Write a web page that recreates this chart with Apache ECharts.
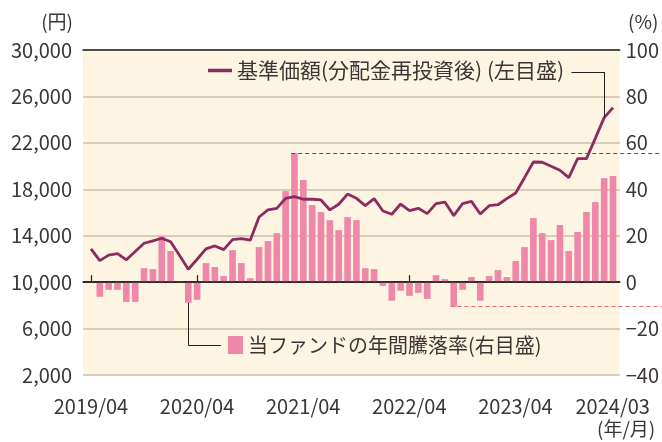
<!DOCTYPE html>
<html>
<head>
<meta charset="utf-8">
<script src="https://cdn.jsdelivr.net/npm/echarts@6/dist/echarts.min.js"></script>
<style>
  html, body { margin: 0; padding: 0; background: #fff; }
  #chart { width: 662px; height: 442px; }
</style>
</head>
<body>
<div id="chart"></div>
<script>
// months 2019/04 - 2024/03
const months = [
  "2019/04", "2019/05", "2019/06", "2019/07", "2019/08", "2019/09", "2019/10", "2019/11", "2019/12", "2020/01", "2020/02", "2020/03",
  "2020/04", "2020/05", "2020/06", "2020/07", "2020/08", "2020/09", "2020/10", "2020/11", "2020/12", "2021/01", "2021/02", "2021/03",
  "2021/04", "2021/05", "2021/06", "2021/07", "2021/08", "2021/09", "2021/10", "2021/11", "2021/12", "2022/01", "2022/02", "2022/03",
  "2022/04", "2022/05", "2022/06", "2022/07", "2022/08", "2022/09", "2022/10", "2022/11", "2022/12", "2023/01", "2023/02", "2023/03",
  "2023/04", "2023/05", "2023/06", "2023/07", "2023/08", "2023/09", "2023/10", "2023/11", "2023/12", "2024/01", "2024/02", "2024/03",
];
// 基準価額 (円)
const navValues = [
  12860, 11850, 12330, 12450, 11920, 12640, 13350, 13560, 13780, 13480, 12320, 11110,
  11970, 12860, 13120, 12800, 13660, 13740, 13610, 15610, 16220, 16360, 17220, 17360,
  17140, 17140, 17080, 16220, 16710, 17590, 17220, 16590, 17190, 16130, 15850, 16730,
  16160, 16360, 15900, 16760, 16900, 15730, 16760, 16960, 15870, 16590, 16670, 17190,
  17680, 19000, 20350, 20330, 19980, 19640, 19000, 20640, 20640, 22390, 24170, 25030,
];
// 年間騰落率 (%)
const returnValues = [
  null, -6.3, -3.3, -3.3, -8.5, -8.5, 6.0, 5.6, 19.8, 13.4, 0.4, -8.9,
  -7.6, 8.2, 6.5, 2.6, 13.8, 8.2, 1.7, 15.1, 17.7, 21.1, 39.2, 55.5,
  44.0, 33.2, 30.2, 26.7, 22.4, 28.0, 26.7, 6.0, 5.6, -1.6, -8.0, -3.7,
  -5.9, -4.6, -7.2, 3.0, 1.3, -10.6, -3.3, 2.2, -8.0, 2.6, 5.2, 2.2,
  9.1, 15.1, 27.6, 21.1, 18.1, 24.6, 13.4, 21.6, 30.2, 34.5, 44.8, 45.7,
];
const tickIndex = [0, 12, 24, 36, 48, 59];
const tickLabels = ["2019/04", "2020/04", "2021/04", "2022/04", "2023/04", "2024/03"];

const navName = "基準価額(分配金再投資後) (左目盛)";
const retName = "当ファンドの年間騰落率(右目盛)";

const font = "'Noto Sans CJK JP', 'Noto Sans', sans-serif";
const textColor = "#3b3535";

// plot area: x from -0.9 to 59.79 over 537px; data grid runs to the page edge
const xMin = -0.9;
const xMax = 59.79;
const xMaxWide = xMin + (xMax - xMin) * 579 / 537;

const navData = navValues.map((v, i) => [i, v]);
const retData = returnValues.map((v, i) => [i, v]);

const valid = returnValues.filter((v) => v != null);
const maxRet = Math.max(...valid);
const minRet = Math.min(...valid);
const maxIdx = returnValues.indexOf(maxRet);
const minIdx = returnValues.indexOf(minRet);

const chart = echarts.init(document.getElementById("chart"));
chart.setOption({
  animation: false,
  textStyle: { fontFamily: font, color: textColor },
  title: [
    { text: "(円)", right: 589, top: 12, padding: 0, textStyle: { fontSize: 19, fontWeight: "normal", color: textColor, fontFamily: font } },
    { text: "(%)", left: 628, top: 12, padding: 0, textStyle: { fontSize: 19, fontWeight: "normal", color: textColor, fontFamily: font } },
    { text: "(年/月)", left: 597, top: 419, padding: 0, textStyle: { fontSize: 19, fontWeight: "normal", color: textColor, fontFamily: font } },
  ],
  legend: [
    {
      data: [navName],
      left: 208,
      top: 60,
      padding: 0,
      icon: "rect",
      itemWidth: 24,
      itemHeight: 3.5,
      textStyle: { fontSize: 21, color: textColor, fontFamily: font },
      selectedMode: false,
    },
    {
      data: [retName],
      left: 228,
      top: 335,
      padding: 0,
      icon: "rect",
      itemWidth: 15,
      itemHeight: 18,
      textStyle: { fontSize: 20, color: textColor, fontFamily: font },
      selectedMode: false,
    },
  ],
  grid: [
    { left: 83, right: 42, top: 50, bottom: 67, show: true, backgroundColor: "#fdf5e2", borderWidth: 0 },
    { left: 83, right: 0, top: 50, bottom: 67 },
  ],
  xAxis: [
    {
      type: "value",
      gridIndex: 0,
      min: xMin,
      max: xMax,
      splitLine: { show: false },
      axisLine: { show: true, lineStyle: { color: "#231f1f", width: 1.5 } },
      axisTick: { show: true, inside: true, length: 7, customValues: tickIndex, lineStyle: { color: "#231f1f", width: 1.2 } },
      axisLabel: {
        customValues: tickIndex,
        margin: 21,
        fontSize: 20,
        color: textColor,
        formatter: (v) => tickLabels[tickIndex.indexOf(Math.round(v))],
      },
    },
    {
      type: "value",
      gridIndex: 0,
      position: "top",
      min: xMin,
      max: xMax,
      splitLine: { show: false },
      axisLine: { show: true, lineStyle: { color: "#231f1f", width: 1.5 } },
      axisTick: { show: false },
      axisLabel: { show: false },
    },
    {
      type: "value",
      gridIndex: 1,
      min: xMin,
      max: xMaxWide,
      show: false,
    },
  ],
  yAxis: [
    {
      type: "value",
      gridIndex: 0,
      position: "left",
      min: 2000,
      max: 30000,
      interval: 4000,
      axisLine: { show: false },
      axisTick: { show: false },
      splitLine: { show: true, lineStyle: { color: "#c9c0ae", width: 1.5 } },
      axisLabel: {
        margin: 11,
        fontSize: 20,
        color: textColor,
        formatter: (v) => v.toLocaleString("en-US"),
      },
    },
    {
      type: "value",
      gridIndex: 0,
      position: "right",
      min: -40,
      max: 100,
      interval: 20,
      axisLine: { show: false },
      axisTick: { show: false },
      splitLine: { show: false },
      axisLabel: {
        margin: 6,
        fontSize: 20,
        color: textColor,
        formatter: (v) => (v < 0 ? "\u2212" + Math.abs(v) : String(v)),
      },
    },
    { type: "value", gridIndex: 1, min: 2000, max: 30000, show: false },
    { type: "value", gridIndex: 1, min: -40, max: 100, show: false },
  ],
  series: [
    {
      name: retName,
      type: "bar",
      xAxisIndex: 2,
      yAxisIndex: 3,
      data: retData,
      barWidth: 6.6,
      itemStyle: { color: "#ee87a8" },
      z: 2,
      markLine: {
        silent: true,
        symbol: ["none", "none"],
        label: { show: false },
        data: [
          [
            { coord: [xMin, 0], lineStyle: { color: "#231f1f", width: 1.5, type: "solid" } },
            { coord: [xMax, 0] },
          ],
          [
            { coord: [maxIdx - 0.37, maxRet], lineStyle: { color: "#c8202e", width: 1, type: [4, 3] } },
            { coord: [xMaxWide - 0.05, maxRet] },
          ],
          [
            { coord: [minIdx - 0.37, minRet], lineStyle: { color: "#ef6b74", width: 1.2, type: [4, 3] } },
            { coord: [xMaxWide - 0.05, minRet] },
          ],
          [
            { coord: [11, returnValues[11]], lineStyle: { color: "#231f1f", width: 1, type: "solid" } },
            { coord: [11, -27.2] },
          ],
          [
            { coord: [11, -27.2], lineStyle: { color: "#231f1f", width: 1, type: "solid" } },
            { coord: [14.7, -27.2] },
          ],
        ],
      },
    },
    {
      name: navName,
      type: "line",
      xAxisIndex: 2,
      yAxisIndex: 2,
      data: navData,
      showSymbol: false,
      lineStyle: { color: "#8c2b60", width: 2.8 },
      itemStyle: { color: "#8c2b60" },
      z: 3,
      markLine: {
        silent: true,
        symbol: ["none", "none"],
        label: { show: false },
        lineStyle: { color: "#231f1f", width: 1, type: "solid" },
        data: [
          [{ coord: [54.3, 28100] }, { coord: [58, 28100] }],
          [{ coord: [58, 28100] }, { coord: [58, navValues[58]] }],
        ],
      },
    },
  ],
});
</script>
</body>
</html>
